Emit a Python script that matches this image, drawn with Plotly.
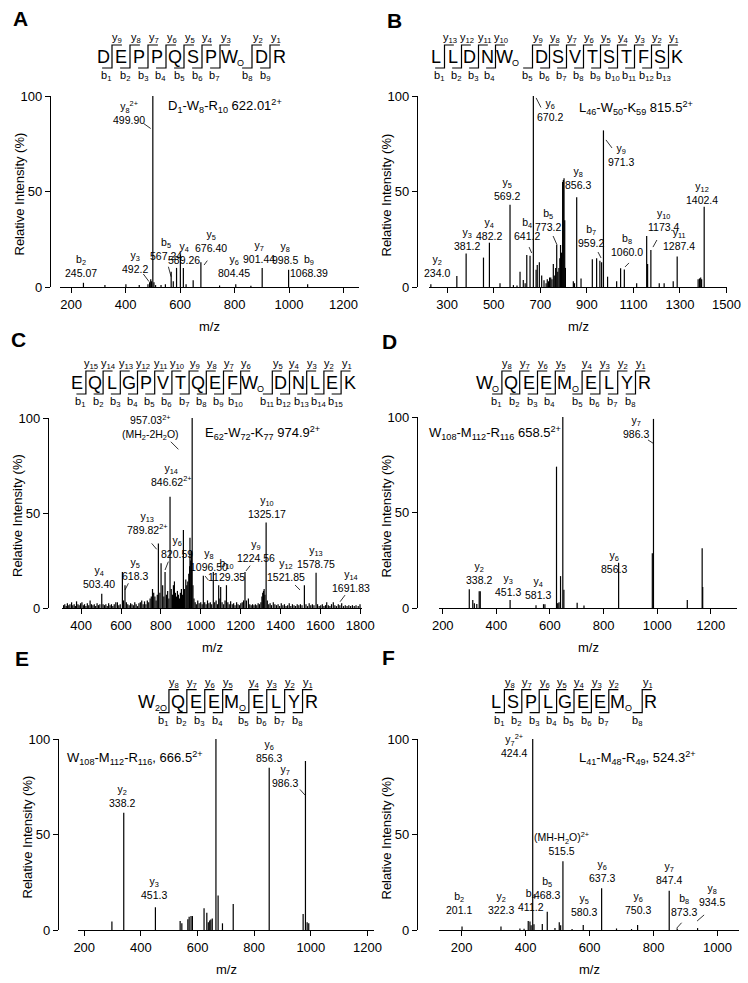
import plotly.graph_objects as go

W, H = 748, 983
FONT = "Arial, 'Liberation Sans', sans-serif"

# ---------------- panel A
A_SEQ = ["D", "E", "P", "P", "Q", "S", "P", "W:O", "D", "R"]
A_PREC = "D<sub>1</sub>-W<sub>8</sub>-R<sub>10</sub> 622.01<sup>2+</sup>"
A_TICKS = [200, 400, 600, 800, 1000, 1200]
A_MZ = [245.07, 324, 401, 450, 482, 488, 492.2, 495, 499.9, 504, 510, 530, 546, 567.24,
        575, 587, 601, 612, 622, 648, 676.4, 745, 804.45, 860, 901.44, 998.5, 1068.39]
A_INT = [2.2, 1, 1.5, 1, 1.5, 2.5, 4, 3, 100, 2.5, 1, 1, 1.5, 8,
         3, 10, 17, 10, 1.5, 3.5, 13, 0.8, 1.5, 0.6, 10, 9, 1.5]
A_TOP = ["y8^2+", "b2", "y3", "b5", "y4", "y5", "y6", "y7", "y8", "b9"]
A_BOT = ["499.90", "245.07", "492.2", "567.24", "589.26", "676.40", "804.45", "901.44", "998.5", "1068.39"]

# ---------------- panel B
B_SEQ = ["L", "L", "D", "N", "W:O", "D", "S", "V", "T", "S", "T", "F", "S", "K"]
B_PREC = "L<sub>46</sub>-W<sub>50</sub>-K<sub>59</sub> 815.5<sup>2+</sup>"
B_TICKS = [300, 500, 700, 900, 1100, 1300, 1500]
B_MZ = [230, 341.6, 381.5, 456, 481.5, 527, 570, 584.6, 600, 613,
        627, 635, 642, 656, 670.2, 682, 687, 696, 706, 716,
        725, 730, 735, 740, 745, 750, 756, 762, 766, 770.6,
        775, 780, 784, 787, 791, 796, 799, 802, 805, 808,
        842, 847, 856.4, 875, 923.5, 942, 956, 963.5, 971.3, 989,
        1028, 1045, 1061, 1114, 1157, 1161, 1175, 1211, 1232, 1271,
        1288, 1378, 1384, 1389, 1393, 1404]
B_INT = [1.5, 5.7, 17.6, 15.4, 23.2, 2, 43, 1, 0.8, 8,
         3.7, 2, 16.8, 16.4, 100, 9, 11.5, 13, 6, 3.5,
         2, 4, 3, 5, 5, 4, 12, 6, 10, 22,
         8, 10, 15, 22, 18, 55, 56, 57, 35, 10,
         3, 2, 47, 4.5, 14.5, 15, 13.8, 13, 82, 5.4,
         3, 9.8, 9.2, 2, 26.7, 12, 19.4, 2, 2, 3,
         16, 4, 4.5, 5, 4, 42]
B_TOP = ["y2", "y3", "y4", "y5", "b4", "b5", "y6", "y8", "b7", "y9", "b8", "y10", "y11", "y12"]
B_BOT = ["234.0", "381.2", "482.2", "569.2", "641.2", "773.2", "670.2", "856.3", "959.2",
         "971.3", "1060.0", "1173.4", "1287.4", "1402.4"]

# ---------------- panel C
C_SEQ = ["E", "Q", "L", "G", "P", "V", "T", "Q", "E", "F", "W:O", "D", "N", "L", "E", "K"]
C_PREC = "E<sub>62</sub>-W<sub>72</sub>-K<sub>77</sub> 974.9<sup>2+</sup>"
C_TICKS = [400, 600, 800, 1000, 1200, 1400, 1600, 1800]
C_MZ = [312, 318, 325, 331, 338, 344, 352, 358, 365, 371,
        377, 384, 390, 397, 404, 411, 417, 424, 431, 438,
        445, 452, 459, 466, 473, 480, 487, 494, 503.4, 510,
        517, 524, 531, 538, 545, 552, 559, 566, 574, 582,
        589, 596, 607, 613, 620, 627, 634, 641, 648, 655,
        662, 669, 676, 683, 690, 697, 704, 711, 718, 725,
        732, 739, 746, 752, 758, 764, 770, 776, 782, 787.5,
        795, 801, 809, 815, 821, 828, 834, 840, 846, 852,
        858, 863, 868, 873, 878, 883, 888, 893, 898, 903,
        908, 913, 918, 925, 930, 935, 940, 944, 946, 950,
        953, 957, 961, 966, 972, 978, 985, 992, 1000, 1007,
        1013, 1020, 1027, 1034, 1041, 1048, 1055, 1063, 1070, 1077,
        1084, 1090, 1096, 1100, 1107, 1115, 1122, 1129, 1136, 1143,
        1150, 1158, 1165, 1172, 1180, 1187, 1194, 1201, 1208, 1215,
        1222, 1229, 1239, 1246, 1253, 1260, 1267, 1274, 1281, 1288,
        1295, 1302, 1307, 1311, 1315, 1318, 1322, 1328, 1334, 1341,
        1348, 1355, 1364, 1372, 1380, 1388, 1396, 1404, 1412, 1420,
        1428, 1436, 1444, 1452, 1460, 1468, 1476, 1484, 1492, 1500,
        1508, 1520, 1528, 1536, 1544, 1552, 1560, 1568, 1578.6, 1586,
        1594, 1602, 1610, 1618, 1626, 1632, 1640, 1648, 1656, 1665,
        1673, 1681, 1690, 1698, 1707, 1716, 1725, 1734, 1743, 1752,
        1761, 1770, 1779, 1790, 1799]
C_INT = [1.5, 2, 1, 2.5, 1.5, 2, 3, 1.5, 2, 1,
         3.5, 2, 1.5, 2.5, 3, 1.5, 2, 1, 2.5, 1.5,
         4, 2, 1.5, 2, 1, 2.5, 1.5, 2, 7.5, 2,
         1.5, 2, 1, 2.5, 1.5, 2, 1, 2, 3, 3,
         1.5, 2, 19, 4, 12, 3, 2, 1.5, 2.5, 2,
         1.5, 3, 2, 1, 2.5, 3, 4, 2, 3.5, 2,
         4, 3, 5, 6, 10, 8, 6, 4, 7, 34,
         8, 23.5, 12, 6, 19, 7, 9, 5, 58.6, 10,
         7, 12, 14, 8, 6, 9, 7, 5, 8, 10,
         7, 41, 10, 15, 12, 14, 18, 22, 37, 25,
         30, 100, 12, 5, 3, 2, 4, 2.5, 3, 2,
         17, 3, 2, 4, 2.5, 3, 2, 19, 3, 4,
         2, 12, 5, 11, 3, 2, 4, 12, 3, 2,
         3.5, 2, 2.5, 1.5, 3, 2, 1.5, 2.5, 3, 4,
         19, 4, 5, 2, 1.5, 2, 1.5, 2, 1.5, 2.5,
         2, 3, 6, 8, 9, 10, 7, 45, 4, 2,
         2.5, 1.5, 3, 2, 1.5, 2, 1, 2.5, 1.5, 2,
         1, 1.5, 2.5, 1, 2, 1.5, 1, 2, 1.5, 2,
         1.5, 12, 2, 1, 2.5, 1.5, 2, 1.5, 18.6, 2,
         1, 1.5, 2, 1, 1.5, 3, 1.5, 1, 2, 3,
         1.5, 1, 2, 1.5, 2.5, 1, 1.5, 1, 1.5, 1,
         1.5, 1, 1.5, 1, 2]
C_TOP = ["957.03^2+", "y14", "y13", "y6", "y5", "y4", "y8", "b10", "y9", "y10", "y12", "y13", "y14"]
C_BOT = ["(MH<sub>2</sub>-2H<sub>2</sub>O)", "846.62^2+", "789.82^2+", "820.59", "618.3", "503.40",
         "1096.50", "1129.35", "1224.56", "1325.17", "1521.85", "1578.75", "1691.83"]

# ---------------- panel D
D_SEQ = ["W:O", "Q", "E", "E", "M:O", "E", "L", "Y", "R"]
D_PREC = "W<sub>108</sub>-M<sub>112</sub>-R<sub>116</sub> 658.5<sup>2+</sup>"
D_TICKS = [200, 400, 600, 800, 1000, 1200]
D_MZ = [299, 312, 318, 327, 336, 340, 451.3, 548, 576, 581.3, 624.5, 627, 630,
        634, 639.5, 648, 652, 701.5, 727, 856.3, 982, 986.3, 1112.5, 1168, 1170]
D_INT = [9.8, 4.2, 2.5, 2.1, 8.8, 8.8, 4.2, 1.5, 2.0, 2.0, 74, 2.5, 2.5,
         3, 16.7, 100, 9.6, 2.8, 1.3, 23.7, 28.6, 99, 4.2, 31.3, 11]
D_TOP = ["y7", "y6", "y2", "y3", "y4"]
D_BOT = ["986.3", "856.3", "338.2", "451.3", "581.3"]

# ---------------- panel E
E_SEQ = ["W:2O", "Q", "E", "E", "M:O", "E", "L", "Y", "R"]
E_PREC = "W<sub>108</sub>-M<sub>112</sub>-R<sub>116</sub>, 666.5<sup>2+</sup>"
E_TICKS = [200, 400, 600, 800, 1000, 1200]
E_MZ = [297.7, 339.5, 451.3, 538.6, 544.6, 565.8, 570.4, 577, 582, 623, 632.8, 638,
        643, 647, 652, 665, 672.6, 688, 726, 853, 972.8, 981, 987, 992.6]
E_INT = [4.4, 61.4, 11.9, 4.7, 3.5, 5.6, 7, 7.3, 7.3, 11.4, 9, 4,
         5, 5.5, 6, 100, 18, 3.5, 13.6, 85, 8.4, 88.5, 4, 3.5]
E_TOP = ["y2", "y3", "y6", "y7"]
E_BOT = ["338.2", "451.3", "856.3", "986.3"]

# ---------------- panel F
F_SEQ = ["L", "S", "P", "L", "G", "E", "E", "M:O", "R"]
F_PREC = "L<sub>41</sub>-M<sub>48</sub>-R<sub>49</sub>, 524.3<sup>2+</sup>"
F_TICKS = [200, 400, 600, 800, 1000]
F_MZ = [201, 322.8, 382, 395, 408, 413.4, 417, 422, 426, 452, 467.5, 491.6,
        505, 509.4, 516.5, 545, 580, 637.5, 684, 731, 750, 848.8, 873.8, 937.5]
F_INT = [1.8, 1.8, 0.8, 0.6, 4.7, 4.5, 2.5, 100, 3, 3.2, 9.6, 1,
         4, 2.5, 36, 0.5, 2.6, 21.8, 0.8, 0.5, 2.6, 20.6, 0.8, 1]
F_TOP = ["y7^2+", "(MH-H<sub>2</sub>O)^2+", "y6", "y7", "b5", "b4", "b2", "y2", "y5", "y6", "b8", "y8"]
F_BOT = ["424.4", "515.5", "637.3", "847.4", "468.3", "411.2", "201.1", "322.3", "580.3", "750.3", "873.3", "934.5"]

# label anchor points (m/z, %) and short leader lines, per panel
A_LAB_POS = [(412, 83), (236, 3.4), (434, 5.2), (548, 12), (616, 9.7), (713, 16), (798, 3.4),
             (890, 10.5), (985, 10), (1075, 3.4)]
A_LEAD = [(466, 85.6, 492, 83), (465, 6.8, 486, 2.8), (557, 10.6, 567, 5.4), (700, 13.8, 688, 11.5)]
B_LAB_POS = [(257, 3.1), (387, 17.1), (480, 22.5), (559, 43.3), (643, 22.5), (733, 27.2), (741, 84.8),
             (862, 49.2), (916, 18.8), (1046, 61.3), (1072, 14.1), (1231, 27.2), (1295, 17.3), (1395, 41.4)]
B_LEAD = [(652, 20.9, 663, 17.8), (755, 26.7, 772, 22), (682, 99, 703, 94), (982, 77, 1008, 72.8),
          (948, 18.3, 961, 15.2), (1081, 12.6, 1064, 10.5), (1201, 24.6, 1184, 20.9)]
C_LAB_POS = [(746, 86.2), (851, 62.1), (731, 36.8), (881, 24), (668, 12.6), (490, 8.4), (1042, 17.4),
             (1129, 12.1), (1278, 22.1), (1330, 45.4), (1428, 12.1), (1579, 19.1), (1754, 6.5)]
C_LEAD = [(850, 87.5, 888, 83.5), (754, 34, 779, 30.9), (837.5, 24.4, 821, 20), (637, 13, 620, 9.5),
          (1022, 16.8, 1038, 14.7), (1248, 22.3, 1227, 19.5), (1473, 12.1, 1498, 9.5), (1724, 6.8, 1699, 3.3)]
D_LAB_POS = [(920, 87.1), (840.6, 16.4), (335, 10.3), (443, 4.2), (557, 2.8)]
D_LEAD = [(965.7, 88, 988, 86)]
E_LAB_POS = [(332.5, 62.3), (445.6, 14), (853, 85.9), (908.5, 72.8)]
E_LEAD = [(961.5, 73.6, 979, 70.7)]
F_LAB_POS = [(363, 88.5), (513.4, 37), (638.5, 23), (847.8, 22), (466.6, 13.9), (416.6, 7.9), (191.6, 6.1),
             (322.8, 6.1), (581, 5.2), (752, 6.1), (895, 5.2), (984, 10.5)]
F_LEAD = [(887.5, 3.8, 872, 0.9), (958, 7.9, 936, 4.7)]

# layout of each panel in pixels
PANELS = [
    dict(tag="A", seq=A_SEQ, prec=A_PREC, ticks=A_TICKS, mz=A_MZ, inten=A_INT, top=A_TOP, bot=A_BOT,
         lab=A_LAB_POS, lead=A_LEAD, prec_pos=(547, 94.8),
         xdom=(60, 359), ydom=(96, 287), yline=50, xr=(159, 1257),
         seq_x=103, seq_y=57, step=18, gap=14, letter=(20, 19)),
    dict(tag="B", seq=B_SEQ, prec=B_PREC, ticks=B_TICKS, mz=B_MZ, inten=B_INT, top=B_TOP, bot=B_BOT,
         lab=B_LAB_POS, lead=B_LEAD, prec_pos=(858, 93.7),
         xdom=(429, 727), ydom=(96, 287), yline=417, xr=(222, 1502),
         seq_x=436, seq_y=57, step=17, gap=20, letter=(394, 20)),
    dict(tag="C", seq=C_SEQ, prec=C_PREC, ticks=C_TICKS, mz=C_MZ, inten=C_INT, top=C_TOP, bot=C_BOT,
         lab=C_LAB_POS, lead=C_LEAD, prec_pos=(1013, 92.3),
         xdom=(62, 362), ydom=(418, 608), yline=48, xr=(304, 1809),
         seq_x=77.3, seq_y=383, step=17.2, gap=14.4, letter=(18, 339)),
    dict(tag="D", seq=D_SEQ, prec=D_PREC, ticks=D_TICKS, mz=D_MZ, inten=D_INT, top=D_TOP, bot=D_BOT,
         lab=D_LAB_POS, lead=D_LEAD, prec_pos=(142.6, 91.5),
         xdom=(439, 737), ydom=(417, 608), yline=417, xr=(186, 1298),
         seq_x=484, seq_y=383, step=17.8, gap=9, letter=(389, 341)),
    dict(tag="E", seq=E_SEQ, prec=E_PREC, ticks=E_TICKS, mz=E_MZ, inten=E_INT, top=E_TOP, bot=E_BOT,
         lab=E_LAB_POS, lead=E_LEAD, prec_pos=(131, 89.9),
         xdom=(78, 374), ydom=(739, 930), yline=58, xr=(178, 1223),
         seq_x=146.7, seq_y=701.7, step=17.9, gap=8.3, letter=(21.7, 658)),
    dict(tag="F", seq=F_SEQ, prec=F_PREC, ticks=F_TICKS, mz=F_MZ, inten=F_INT, top=F_TOP, bot=F_BOT,
         lab=F_LAB_POS, lead=F_LEAD, prec_pos=(561, 89.9),
         xdom=(439, 739), ydom=(739, 930), yline=417, xr=(129, 1067),
         seq_x=495.7, seq_y=701.7, step=17.4, gap=16, letter=(388, 657)),
]


def fx(px):
    return px / W


def fy(py):
    return 1 - py / H


def html(s):
    base, _, sup = s.partition("^")
    if len(base) > 1 and base[0] in "by" and base[1:].isdigit():
        base = base[0] + "<sub>" + base[1:] + "</sub>"
    return base + ("<sup>" + sup + "</sup>" if sup else "")


annotations = []
shapes = []


def paper_text(x, y, text, size, **kw):
    annotations.append(dict(x=fx(x), y=fy(y), xref="paper", yref="paper", text=text, showarrow=False,
                            xanchor="center", yanchor="middle",
                            font=dict(size=size, family=FONT, color="black"), **kw))


def add_sequence(seq, cx0, cy, step, gap):
    left = cx0 - step / 2
    bounds = []
    for res in seq:
        letter, _, mod = res.partition(":")
        c = left + step / 2
        paper_text(c, cy, letter, 18)
        width = step
        if mod:
            paper_text(c + 8 + 3 * len(mod), cy + 6, mod, 9)
            width += gap + 5 * (len(mod) - 1)
        left += width
        bounds.append(left)
    n = len(seq)
    top, bot, arm = cy - 12, cy + 11, step * 0.55
    for i in range(n - 1):
        xc = bounds[i]
        path = (f"M{fx(xc - arm)},{fy(bot)} L{fx(xc)},{fy(bot)} "
                f"L{fx(xc)},{fy(top)} L{fx(xc + arm)},{fy(top)}")
        shapes.append(dict(type="path", path=path, xref="paper", yref="paper",
                           line=dict(color="black", width=1.2)))
        paper_text(xc + 5.5, top - 7, f"y<sub>{n - 1 - i}</sub>", 11)
        paper_text(xc - 5.5, bot + 8, f"b<sub>{i + 1}</sub>", 11)


fig = go.Figure()
layout = dict(width=W, height=H, margin=dict(l=0, r=0, t=0, b=0), showlegend=False,
              plot_bgcolor="white", paper_bgcolor="white")

for k, p in enumerate(PANELS, start=1):
    sfx = "" if k == 1 else str(k)
    xs, ys = [], []
    for m, v in zip(p["mz"], p["inten"]):
        xs += [m, m, None]
        ys += [0, v, None]
    fig.add_trace(go.Scatter(x=xs, y=ys, mode="lines", xaxis="x" + sfx, yaxis="y" + sfx,
                             line=dict(color="black", width=1.2), hoverinfo="skip"))

    x0, x1 = p["xdom"]
    y0, y1 = p["ydom"]
    axis_style = dict(showline=True, linecolor="black", linewidth=1.3, ticks="outside", ticklen=5,
                      tickwidth=1.3, tickcolor="black", showgrid=False, zeroline=False,
                      tickfont=dict(size=13, family=FONT, color="black"), automargin=False)
    layout["xaxis" + sfx] = dict(domain=[fx(x0), fx(x1)], range=list(p["xr"]), anchor="y" + sfx,
                                 tickvals=p["ticks"], **axis_style)
    layout["yaxis" + sfx] = dict(domain=[fy(y1), fy(y0)], range=[0, 100], anchor="free",
                                 position=fx(p["yline"]), tickvals=[0, 50, 100], **axis_style)

    # peak labels
    for t, b, (lx, ly) in zip(p["top"], p["bot"], p["lab"]):
        annotations.append(dict(x=lx, y=ly, xref="x" + sfx, yref="y" + sfx, text=html(t) + "<br>" + html(b),
                                showarrow=False, xanchor="center", yanchor="bottom", align="center",
                                font=dict(size=10.5, family=FONT, color="black")))
    for (ax0, ay0, ax1, ay1) in p["lead"]:
        shapes.append(dict(type="line", xref="x" + sfx, yref="y" + sfx, x0=ax0, y0=ay0, x1=ax1, y1=ay1,
                           line=dict(color="black", width=0.8)))

    # precursor label; if it starts left of the x range, anchor at the range start and shift in pixels
    px_per_mz = (x1 - x0) / (p["xr"][1] - p["xr"][0])
    pmz, pint = p["prec_pos"]
    shift = 0
    if pmz < p["xr"][0]:
        shift = (pmz - p["xr"][0]) * px_per_mz
        pmz = p["xr"][0]
    annotations.append(dict(x=pmz, y=pint, xref="x" + sfx, yref="y" + sfx, xshift=shift,
                            text=p["prec"], showarrow=False, xanchor="left", yanchor="middle",
                            font=dict(size=13, family=FONT, color="black")))

    # titles, panel letter, sequence
    paper_text((x0 + x1) / 2, y1 + 39, "m/z", 13)
    paper_text(p["yline"] - 31, (y0 + y1) / 2 + 3, "Relative Intensity (%)", 13, textangle=-90)
    paper_text(p["letter"][0], p["letter"][1], "<b>" + p["tag"] + "</b>", 21)
    add_sequence(p["seq"], p["seq_x"], p["seq_y"], p["step"], p["gap"])

layout["annotations"] = annotations
layout["shapes"] = shapes
fig.update_layout(**layout)
fig.write_html("out.html", config={"displayModeBar": False},
               post_script="document.body.style.margin='0';")
